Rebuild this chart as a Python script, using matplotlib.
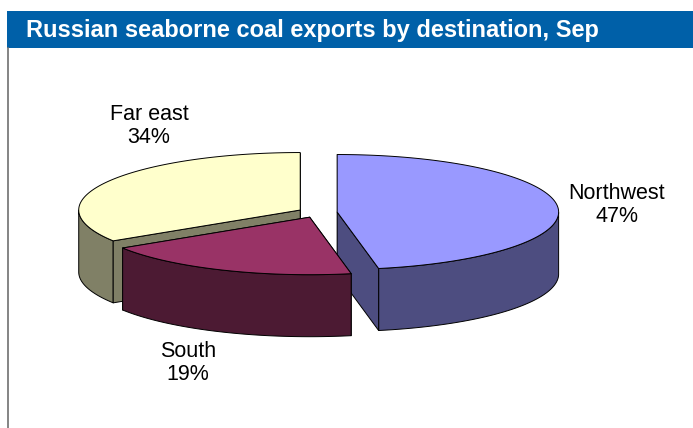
import numpy as np
import matplotlib
matplotlib.use("Agg")
import matplotlib.pyplot as plt
from matplotlib.patches import Polygon, Rectangle

# ---- data ----
title = "Russian seaborne coal exports by destination, Sep"
categories = ["Northwest", "South", "Far east"]
shares = [47, 19, 34]
top_colors = ["#9999FF", "#993366", "#FFFFCC"]
side_colors = ["#4D4D80", "#4C1A33", "#808066"]

# ---- layout (pixels) ----
W, H = 693, 428
CX, CY = 317.5, 212.5
RX, RY = 221.5, 57.5
DEPTH = 62
EXPLODE = 0.089
START = 90.0
label_pos = [(617, 205), (188, 363), (149, 126)]
FONT = "Liberation Sans"

fig = plt.figure(figsize=(W / 100, H / 100), dpi=100)
ax = fig.add_axes([0, 0, 1, 1])
ax.set_xlim(0, W)
ax.set_ylim(H, 0)
ax.axis("off")

# title bar and frame line
ax.add_patch(Rectangle((7, 11), W - 7, 37, facecolor="#0060A8", edgecolor="none", zorder=1))
ax.text(26, 30.5, title, color="white", fontsize=17, fontweight="bold", family=FONT,
        va="center", ha="left", zorder=2)
ax.plot([7.5, 7.5], [48, H], color="#6F6F6F", lw=1.2, zorder=1)

EDGE = dict(edgecolor="black", linewidth=0.7, joinstyle="round")


def pt(cx, cy, t, dz=0.0):
    r = np.radians(t)
    return np.column_stack([cx + RX * np.cos(r), cy - RY * np.sin(r) + dz])


slices = []
a0 = START
total = float(sum(shares))
for i, v in enumerate(shares):
    a1 = a0 - 360.0 * v / total
    mid = 0.5 * (a0 + a1)
    cx = CX + EXPLODE * RX * np.cos(np.radians(mid))
    cy = CY - EXPLODE * RY * np.sin(np.radians(mid))
    slices.append((i, a0, a1, cx, cy))
    a0 = a1

z = 3
for i, a0, a1, cx, cy in sorted(slices, key=lambda s: s[4]):
    ts = np.linspace(a0, a1, 300)
    top_arc = pt(cx, cy, ts)
    c = np.array([[cx, cy]])
    # cut faces
    hidden, visible = [], []
    for t, nrm in ((a0, a0 + 90), (a1, a1 - 90)):
        p = pt(cx, cy, np.array([t]))[0]
        quad = np.array([[cx, cy], p, p + [0, DEPTH], [cx, cy + DEPTH]])
        (visible if np.sin(np.radians(nrm)) < -1e-6 else hidden).append(quad)
    for q in hidden:
        ax.add_patch(Polygon(q, closed=True, facecolor=side_colors[i], zorder=z, **EDGE)); z += 1
    # front outer side
    front = np.sin(np.radians(ts)) < 0
    idx = np.where(front)[0]
    if idx.size:
        segs = np.split(idx, np.where(np.diff(idx) != 1)[0] + 1)
        for sg in segs:
            upper = top_arc[sg]
            lower = upper + [0, DEPTH]
            poly = np.vstack([upper, lower[::-1]])
            ax.add_patch(Polygon(poly, closed=True, facecolor=side_colors[i], zorder=z, **EDGE)); z += 1
    for q in visible:
        ax.add_patch(Polygon(q, closed=True, facecolor=side_colors[i], zorder=z, **EDGE)); z += 1
    ax.add_patch(Polygon(np.vstack([c, top_arc]), closed=True, facecolor=top_colors[i], zorder=z, **EDGE)); z += 1

for i, (x, y) in enumerate(label_pos):
    ax.text(x, y, f"{categories[i]}\n{shares[i]}%", ha="center", va="center",
            fontsize=15.5, family=FONT, color="black", linespacing=1.1, zorder=50)

fig.savefig("out.png", dpi=100)
